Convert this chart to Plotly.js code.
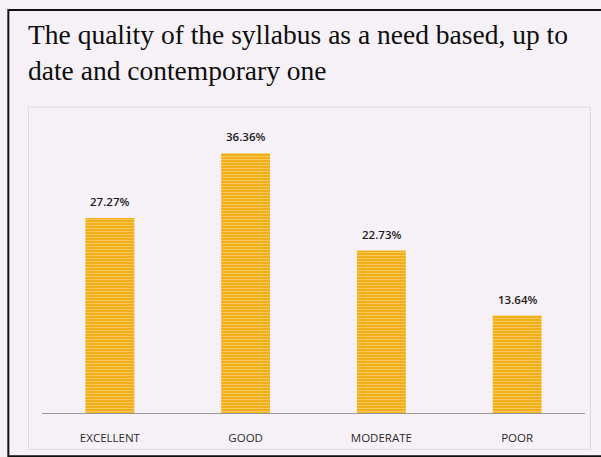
<!DOCTYPE html>
<html>
<head>
<meta charset="utf-8">
<script src="https://cdn.plot.ly/plotly-3.0.1.min.js"></script>
<style>html,body{margin:0;padding:0;background:#f6f1f6;}#chart{width:601px;height:457px;}</style>
</head>
<body>
<div id="chart"></div>
<script>
const categories = ["EXCELLENT", "GOOD", "MODERATE", "POOR"];
const values = [27.27, 36.36, 22.73, 13.64];
const valueLabels = ["27.27%", "36.36%", "22.73%", "13.64%"];
const titleText = "The quality of the syllabus as a need based, up to<br>date and contemporary one";

const trace = {
  type: "bar",
  x: categories,
  y: values,
  width: 0.36,
  marker: {
    color: "#F4B224",
    line: {width: 0},
    pattern: {shape: "-", fgcolor: "#F8CD5E", bgcolor: "#F2AD1A", size: 3, solidity: 0.3}
  },
  hoverinfo: "none"
};

const annotations = categories.map((c, i) => ({
  x: c, y: values[i], xref: "x", yref: "y",
  text: valueLabels[i], showarrow: false,
  yanchor: "bottom", yshift: 7,
  font: {family: "Open Sans, sans-serif", size: 11.5, color: "#1a1a1a", weight: 600}
}));
annotations.push({
  xref: "paper", yref: "paper", x: 0, y: 1, xanchor: "left", yanchor: "bottom",
  xshift: -16, yshift: 22, align: "left",
  text: titleText, showarrow: false,
  font: {family: "Liberation Serif, Times New Roman, serif", size: 27.5, color: "#0d0d0d"}
});

const layout = {
  width: 601, height: 457,
  margin: {l: 42, r: 16, t: 110, b: 44},
  paper_bgcolor: "#f6f1f6",
  plot_bgcolor: "rgba(0,0,0,0)",
  showlegend: false,
  xaxis: {
    showline: true, linecolor: "#9a9a9a", linewidth: 1,
    ticks: "outside", ticklen: 14, tickcolor: "rgba(0,0,0,0)",
    tickfont: {family: "Open Sans, sans-serif", size: 11.5, color: "#2a2a2a"},
    showgrid: false, zeroline: false, fixedrange: true
  },
  yaxis: {
    range: [0, 42.4], visible: false, showgrid: false, zeroline: false, fixedrange: true
  },
  annotations: annotations,
  shapes: [
    {type: "rect", xref: "paper", yref: "paper", x0: -0.062, x1: 1.04, y0: -0.143, y1: 1.33,
     line: {color: "#111", width: 2}},
    {type: "rect", xref: "paper", yref: "paper", x0: -0.025, x1: 1.01, y0: -0.12, y1: 1.01,
     line: {color: "#dddddd", width: 1}}
  ]
};

Plotly.newPlot("chart", [trace], layout, {displayModeBar: false, staticPlot: true});
</script>
</body>
</html>
